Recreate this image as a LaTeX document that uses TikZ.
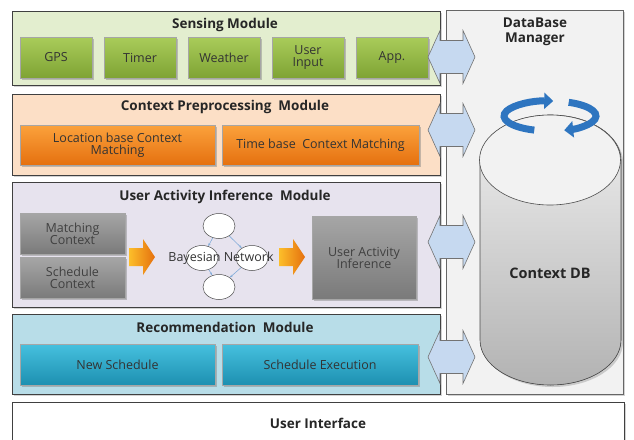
\documentclass[tikz,border=0pt]{standalone}
\usepackage{fontspec}
\setmainfont{Open Sans}
\usetikzlibrary{shadows,arrows.meta,calc,shapes.geometric}
\definecolor{greenbg}{HTML}{E3EECF}
\definecolor{greentop}{HTML}{A9CC5A}
\definecolor{greenbot}{HTML}{7FA334}
\definecolor{orangebg}{HTML}{FCDFC6}
\definecolor{orangetop}{HTML}{FBA23C}
\definecolor{orangebot}{HTML}{E5700F}
\definecolor{lavbg}{HTML}{E7E3EE}
\definecolor{graytop}{HTML}{A6A6A6}
\definecolor{graybot}{HTML}{7A7A7A}
\definecolor{bluebg}{HTML}{B8DDE8}
\definecolor{tealtop}{HTML}{45C0DE}
\definecolor{tealbot}{HTML}{1C8FB0}
\definecolor{dbbg}{HTML}{F2F2F2}
\definecolor{arrowfill}{HTML}{C6D9F0}
\definecolor{ringblue}{HTML}{2E75C0}
\tikzset{
  module/.style={draw=black!75, line width=0.8pt, drop shadow={opacity=0.35,shadow xshift=1.5pt,shadow yshift=-1.5pt}},
  title/.style={font=\bfseries\fontsize{13.5}{15}\selectfont, text=black!85},
  btn/.style={draw=black!35, line width=0.4pt, drop shadow={opacity=0.45,shadow xshift=1.5pt,shadow yshift=-1.5pt}, align=center, font=\fontsize{12.5}{13}\selectfont, inner sep=0pt},
  gbtn/.style={btn, top color=greentop, bottom color=greenbot, text=black!80},
  obtn/.style={btn, top color=orangetop, bottom color=orangebot, text=black!80},
  gybtn/.style={btn, top color=graytop, bottom color=graybot, text=black!75},
  tbtn/.style={btn, top color=tealtop, bottom color=tealbot, text=black!80},
  dblarrow/.style={draw=black!55, fill=arrowfill, line width=0.6pt},
  bnode/.style={draw=black!70, fill=white, ellipse, minimum width=32pt, minimum height=25pt, inner sep=0pt, line width=0.5pt},
  barrow/.style={-{Stealth[length=3pt]}, draw=ringblue!60, line width=0.6pt},
  oarrow/.style={draw=none},
  ring/.style={ringblue, line width=7pt, -{Triangle[length=9pt,width=16pt]}},
}
\begin{document}
\begin{tikzpicture}[x=1pt,y=-1pt]
\useasboundingbox (0,0) rectangle (634,439);
\fill[white] (0,0) rectangle (634,439);

% DB manager panel
\node[module, fill=dbbg, draw=black!60, minimum width=177pt, minimum height=384pt, inner sep=0pt, anchor=north west] (dbm) at (446,10) {};
\node[title, align=center, anchor=north] (dbmt) at (535,14) {DataBase\\Manager};

% Cylinder
\coordinate (cyl) at (550,160);
\fill[drop shadow={opacity=0.35,shadow xshift=2pt,shadow yshift=-2pt}, top color=black!6, bottom color=black!30, draw=black!70, line width=0.6pt]
  (480,160) -- (480,340) arc[start angle=180, end angle=360, x radius=70.5pt, y radius=45pt] -- (621,160) arc[start angle=0, end angle=180, x radius=70.5pt, y radius=45pt] -- cycle;
\draw[black!70, line width=0.6pt, fill=black!5] (cyl) ellipse[x radius=70.5pt, y radius=45pt];
\node[title, font=\bfseries\fontsize{14.5}{16}\selectfont] (cdb) at (550,273) {Context DB};

% Rotating ring
\coordinate (ringc) at (550,116);
\draw[ring] (ringc) ++(250:46pt and 15pt) arc[start angle=250, end angle=86, x radius=46pt, y radius=15pt];
\draw[ring] (ringc) ++(66:46pt and 15pt) arc[start angle=66, end angle=-72, x radius=46pt, y radius=15pt];

% Sensing module
\node[module, fill=greenbg, minimum width=428pt, minimum height=74pt, anchor=north west, inner sep=0pt] (sens) at (12,11) {};
\node[title] (senst) at (225,25) {Sensing Module};
\node[gbtn, minimum width=72pt, minimum height=41pt] (gps) at (56,57.5) {GPS};
\node[gbtn, minimum width=72pt, minimum height=41pt] (timer) at (140,57.5) {Timer};
\node[gbtn, minimum width=72pt, minimum height=41pt] (weather) at (224,57.5) {Weather};
\node[gbtn, minimum width=72pt, minimum height=41pt] (uin) at (308,57.5) {User\\[-1pt]Input};
\node[gbtn, minimum width=72pt, minimum height=41pt] (app) at (392,57.5) {App.};

% Context preprocessing
\node[module, fill=orangebg, minimum width=428pt, minimum height=81pt, anchor=north west, inner sep=0pt] (ctx) at (12,94) {};
\node[title] (ctxt) at (225,107) {Context Preprocessing\ \ Module};
\node[obtn, minimum width=195pt, minimum height=40pt] (loc) at (117.5,145) {Location base Context\\[-1pt]Matching};
\node[obtn, minimum width=197pt, minimum height=40pt] (time) at (320.5,145) {Time base\ \ Context Matching};

% User activity inference
\node[module, fill=lavbg, minimum width=428pt, minimum height=125pt, anchor=north west, inner sep=0pt] (uai) at (12,182) {};
\node[title] (uait) at (225,197) {User Activity Inference\ \ Module};
\node[gybtn, minimum width=105pt, minimum height=41pt] (mc) at (72.5,233.5) {Matching\\[-1pt]Context};
\node[gybtn, minimum width=105pt, minimum height=41pt] (sc) at (72.5,278) {Schedule\\[-1pt]Context};
\node[gybtn, minimum width=104pt, minimum height=83pt] (uaiinf) at (364,257.5) {User Activity\\[-1pt]Inference};
% orange arrows
\coordinate (oa1) at (129,257);
\coordinate (oa2) at (279,257);
\foreach \c in {oa1,oa2}{
  \shade[oarrow, left color=orangetop!70!yellow, right color=orangebot] ($(\c)+(0,-9)$) -- ++(14,0) -- ++(0,-9) -- ++(12,18) -- ++(-12,18) -- ++(0,-9) -- ++(-14,0) -- cycle;
}
% Bayesian network
\node[bnode] (bt) at (219,226) {};
\node[bnode] (bl) at (202,258) {};
\node[bnode] (br) at (252,258) {};
\node[bnode] (bb) at (219,287) {};
\draw[barrow] (bt) -- (bl);
\draw[barrow] (bt) -- (br);
\draw[barrow] (bl) -- (bb);
\draw[barrow] (br) -- (bb);
\node[font=\fontsize{12.5}{13}\selectfont, text=black!80] (bn) at (221,258) {Bayesian Network};

% Recommendation
\node[module, fill=bluebg, minimum width=428pt, minimum height=80pt, anchor=north west, inner sep=0pt] (rec) at (12,314) {};
\node[title] (rect) at (225,327) {Recommendation\ \ Module};
\node[tbtn, minimum width=195pt, minimum height=41pt] (ns) at (117.5,365) {New Schedule};
\node[tbtn, minimum width=196pt, minimum height=41pt] (se) at (320,365) {Schedule Execution};

% User interface
\node[module, fill=white, minimum width=612pt, minimum height=50pt, anchor=north west, inner sep=0pt] (ui) at (12,402) {};
\node[title] (uit) at (318,423) {User Interface};

% double arrows
\foreach \n/\y in {da1/57,da2/130,da3/242,da4/357}{
  \coordinate (\n) at (451.5,\y);
  \draw[dblarrow] ($(\n)+(-23.5,0)$) -- ++(12,-26.5) -- ++(0,10) -- ++(23,0) -- ++(0,-10) -- ++(12,26.5) -- ++(-12,26.5) -- ++(0,-10) -- ++(-23,0) -- ++(0,10) -- cycle;
}
\end{tikzpicture}
\end{document}
